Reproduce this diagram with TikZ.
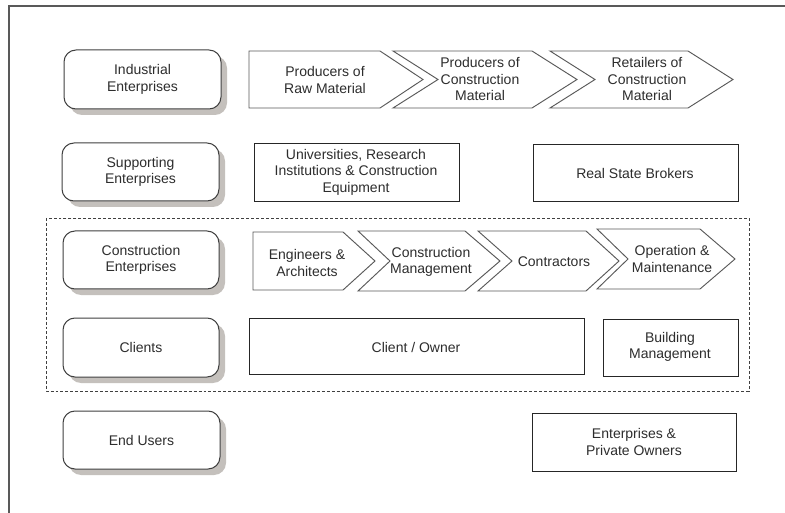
\documentclass[tikz,border=0pt]{standalone}
\usepackage{fontspec}
\setmainfont{Liberation Sans}
\definecolor{shadowc}{RGB}{196,192,188}
\definecolor{txt}{RGB}{45,45,45}
\tikzset{
  lbl/.style={text=txt, align=center, font=\fontsize{10.5}{12.3}\selectfont, inner sep=0pt},
  chev/.style={draw=black!65, line width=0.7pt, fill=white, line join=miter},
  rect/.style={draw=black!85, line width=0.7pt, fill=white},
  rbox/.style={draw=black!75, line width=0.75pt, fill=white, rounded corners=9pt},
  rshadow/.style={fill=shadowc, rounded corners=9pt},
  frame/.style={draw=black!65, line width=0.9pt},
  group/.style={draw=black!75, line width=0.6pt, dash pattern=on 2.2pt off 1.5pt}
}
\newcommand{\catbox}[6]{% name, x1,y1,x2,y2, text
  \fill[rshadow] (#2+6,#3+6) rectangle (#4+6,#5+6);
  \draw[rbox] (#2,#3) rectangle (#4,#5);
  \node[lbl] (#1) at ({(#2+#4)/2},{(#3+#5)/2}) {#6};
}
\begin{document}
\begin{tikzpicture}[x=0.75pt,y=-0.75pt]
\useasboundingbox (0,0) rectangle (785,513);
\fill[white] (0,0) rectangle (785,513);
% outer frame (only top and left visible)
\draw[frame] (9,513) -- (9,6) -- (785,6);

% dashed group
\draw[group] (46,218) rectangle (749,391);

% category boxes
\catbox{ind}{64}{50}{221}{109}{Industrial\\Enterprises}
\catbox{sup}{62}{143}{219}{201}{Supporting\\Enterprises}
\catbox{con}{63}{231}{219}{289}{Construction\\Enterprises}
\catbox{cli}{63}{318}{219}{377}{Clients}
\catbox{end}{63}{411}{220}{469}{End Users}

% row 1 chevrons
\draw[chev] (249,51) -- (380,51) -- (423,79.5) -- (380,108) -- (249,108) -- cycle;
\node[lbl] (raw) at (325,80) {Producers of\\Raw Material};
\draw[chev] (393,51) -- (532,51) -- (577,79.5) -- (532,108) -- (393,108) -- (438,79.5) -- cycle;
\node[lbl] (prod) at (480,79) {Producers of\\Construction\\Material};
\draw[chev] (550,51) -- (688,51) -- (733,79.5) -- (688,108) -- (550,108) -- (595,79.5) -- cycle;
\node[lbl] (ret) at (647,79) {Retailers of\\Construction\\Material};

% row 2
\draw[rect] (254,143) rectangle (459,201);
\node[lbl] (uni) at (356,172) {Universities, Research\\Institutions \& Construction\\Equipment};
\draw[rect] (533,144) rectangle (738,201);
\node[lbl] (rsb) at (635,173) {Real State Brokers};

% row 3 chevrons
\draw[chev] (253,232) -- (343,232) -- (375,261) -- (343,290) -- (253,290) -- cycle;
\node[lbl] (eng) at (307,263) {Engineers \&\\Architects};
\draw[chev] (358,231) -- (465,231) -- (500,261) -- (465,291) -- (358,291) -- (390,261) -- cycle;
\node[lbl] (cm) at (431,262) {Construction\\Management};
\draw[chev] (478,231) -- (586,231) -- (619,261) -- (586,291) -- (478,291) -- (512,261) -- cycle;
\node[lbl] (ctr) at (554,262) {Contractors};
\draw[chev] (597,229) -- (700,229) -- (735,259) -- (700,289) -- (597,289) -- (628,259) -- cycle;
\node[lbl] (om) at (672,259) {Operation \&\\Maintenance};

% row 4
\draw[rect] (249,318) rectangle (584,374);
\node[lbl] (own) at (416,347) {Client / Owner};
\draw[rect] (603,319) rectangle (738,376);
\node[lbl] (bm) at (670,347) {Building\\Management};

% row 5
\draw[rect] (532,413) rectangle (736,471);
\node[lbl] (epo) at (634,442) {Enterprises \&\\Private Owners};
\end{tikzpicture}
\end{document}
